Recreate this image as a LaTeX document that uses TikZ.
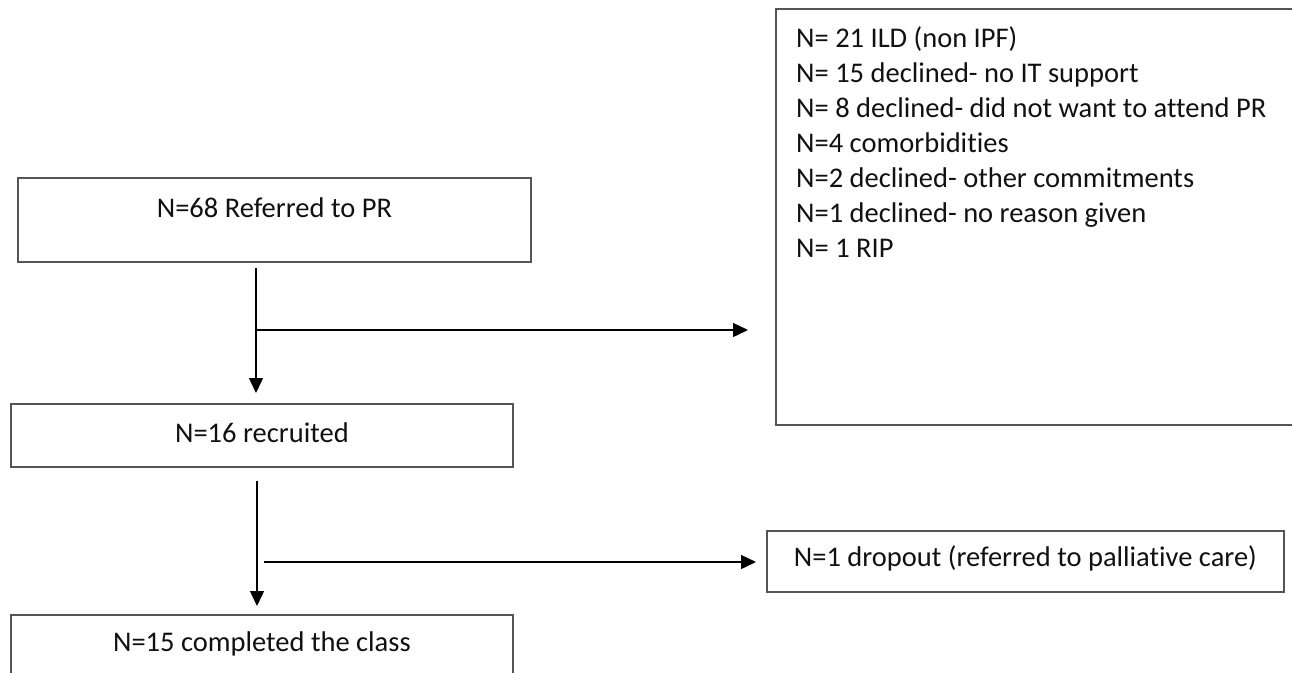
\documentclass[tikz,border=0pt]{standalone}
\usepackage{fontspec}
\setmainfont{Carlito}[Ligatures=NoCommon]
\usetikzlibrary{arrows.meta}
\definecolor{boxgray}{HTML}{555555}
\definecolor{ink}{HTML}{111111}
\begin{document}
\begin{tikzpicture}[x=1pt,y=-1pt,
  every node/.style={font=\fontsize{28.5}{35}\selectfont, text=ink},
  box/.style={draw=boxgray, line width=1.8pt, inner xsep=0pt, inner ysep=0pt, anchor=north west, align=center},
  arr/.style={draw=black, line width=1.4pt, -{Triangle[width=14pt,length=15pt]}}]
\useasboundingbox (0,0) rectangle (1292,672);
\clip (0,0) rectangle (1292,672);
\fill[white] (0,0) rectangle (1292,672);
% boxes
\node[box, minimum width=513pt, text height=40pt, text depth=44pt] (ref) at (17,177) {N=68 Referred to PR};
\node[box, minimum width=502pt, text height=39pt, text depth=24pt] (rec) at (10,403) {N=16 recruited};
\node[box, minimum width=502pt, text height=37pt, text depth=70pt] (done) at (10,614) {N=15 completed the class};
\node[box, minimum width=517pt, text height=36pt, text depth=25pt] (drop) at (766,530) {N=1 dropout (referred to palliative care)};
\node[box, minimum width=600pt, minimum height=416pt] (excl) at (775,8) {};
\node[anchor=north west, inner sep=0pt, align=left] (excltext) at (796,23)
  {\rule{0pt}{24pt}N= 21 ILD (non IPF)\\
   N= 15 declined- no IT support\\
   N= 8 declined- did not want to attend PR\\
   N=4 comorbidities\\
   N=2 declined- other commitments\\
   N=1 declined- no reason given\\
   N= 1 RIP};
% connectors
\coordinate (s1) at (256,268);
\coordinate (b1) at (256,330);
\coordinate (s2) at (257,481);
\coordinate (b2) at (264,562);
\draw[arr, shorten >=10pt] (s1) -- (s1 |- rec.north);
\draw[arr, shorten >=27pt] (b1) -- (b1 -| excl.west);
\draw[arr, shorten >=8pt] (s2) -- (s2 |- done.north);
\draw[arr, shorten >=10pt] (b2) -- (b2 -| drop.west);
\end{tikzpicture}
\end{document}
